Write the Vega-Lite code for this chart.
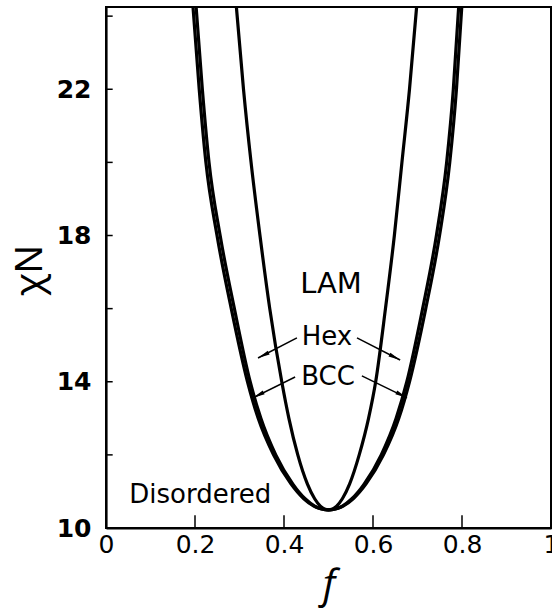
{
  "$schema": "https://vega.github.io/schema/vega-lite/v6.json",
  "width": 445,
  "height": 521,
  "autosize": "none",
  "padding": {"left": 106, "top": 7, "right": 1, "bottom": 82},
  "background": "white",
  "config": {
    "view": {"stroke": "black", "strokeWidth": 2},
    "axis": {"grid": false, "ticks": false, "domainColor": "black", "domainWidth": 2.2, "labelColor": "black", "titleColor": "black"}
  },
  "datasets": {
    "curves": [
      {"curve": "ODT", "f": 0.1955, "chiN": 24.25},
      {"curve": "ODT", "f": 0.2095, "chiN": 22},
      {"curve": "ODT", "f": 0.2245, "chiN": 20},
      {"curve": "ODT", "f": 0.2495, "chiN": 18},
      {"curve": "ODT", "f": 0.2815, "chiN": 16},
      {"curve": "ODT", "f": 0.318, "chiN": 14},
      {"curve": "ODT", "f": 0.342, "chiN": 13},
      {"curve": "ODT", "f": 0.3765, "chiN": 12},
      {"curve": "ODT", "f": 0.416, "chiN": 11.2},
      {"curve": "ODT", "f": 0.4445, "chiN": 10.8},
      {"curve": "ODT", "f": 0.467, "chiN": 10.6},
      {"curve": "ODT", "f": 0.4841, "chiN": 10.52},
      {"curve": "ODT", "f": 0.5, "chiN": 10.495},
      {"curve": "ODT", "f": 0.5159, "chiN": 10.52},
      {"curve": "ODT", "f": 0.533, "chiN": 10.6},
      {"curve": "ODT", "f": 0.5555, "chiN": 10.8},
      {"curve": "ODT", "f": 0.584, "chiN": 11.2},
      {"curve": "ODT", "f": 0.6235, "chiN": 12},
      {"curve": "ODT", "f": 0.658, "chiN": 13},
      {"curve": "ODT", "f": 0.682, "chiN": 14},
      {"curve": "ODT", "f": 0.7185, "chiN": 16},
      {"curve": "ODT", "f": 0.7495, "chiN": 18},
      {"curve": "ODT", "f": 0.7725, "chiN": 20},
      {"curve": "ODT", "f": 0.7875, "chiN": 22},
      {"curve": "ODT", "f": 0.7995, "chiN": 24.25},
      {"curve": "Hex", "f": 0.2025, "chiN": 24.25},
      {"curve": "Hex", "f": 0.2165, "chiN": 22},
      {"curve": "Hex", "f": 0.2315, "chiN": 20},
      {"curve": "Hex", "f": 0.2565, "chiN": 18},
      {"curve": "Hex", "f": 0.2885, "chiN": 16},
      {"curve": "Hex", "f": 0.324, "chiN": 14},
      {"curve": "Hex", "f": 0.348, "chiN": 13},
      {"curve": "Hex", "f": 0.3815, "chiN": 12},
      {"curve": "Hex", "f": 0.42, "chiN": 11.2},
      {"curve": "Hex", "f": 0.4475, "chiN": 10.8},
      {"curve": "Hex", "f": 0.469, "chiN": 10.6},
      {"curve": "Hex", "f": 0.4851, "chiN": 10.52},
      {"curve": "Hex", "f": 0.5, "chiN": 10.495},
      {"curve": "Hex", "f": 0.5149, "chiN": 10.52},
      {"curve": "Hex", "f": 0.531, "chiN": 10.6},
      {"curve": "Hex", "f": 0.5525, "chiN": 10.8},
      {"curve": "Hex", "f": 0.58, "chiN": 11.2},
      {"curve": "Hex", "f": 0.6185, "chiN": 12},
      {"curve": "Hex", "f": 0.652, "chiN": 13},
      {"curve": "Hex", "f": 0.676, "chiN": 14},
      {"curve": "Hex", "f": 0.7115, "chiN": 16},
      {"curve": "Hex", "f": 0.7425, "chiN": 18},
      {"curve": "Hex", "f": 0.7655, "chiN": 20},
      {"curve": "Hex", "f": 0.7805, "chiN": 22},
      {"curve": "Hex", "f": 0.7925, "chiN": 24.25},
      {"curve": "LAM", "f": 0.293, "chiN": 24.25},
      {"curve": "LAM", "f": 0.309, "chiN": 22},
      {"curve": "LAM", "f": 0.326, "chiN": 20},
      {"curve": "LAM", "f": 0.346, "chiN": 18},
      {"curve": "LAM", "f": 0.368, "chiN": 16},
      {"curve": "LAM", "f": 0.395, "chiN": 14},
      {"curve": "LAM", "f": 0.411, "chiN": 13},
      {"curve": "LAM", "f": 0.431, "chiN": 12},
      {"curve": "LAM", "f": 0.4527, "chiN": 11.2},
      {"curve": "LAM", "f": 0.4689, "chiN": 10.8},
      {"curve": "LAM", "f": 0.4817, "chiN": 10.6},
      {"curve": "LAM", "f": 0.491, "chiN": 10.52},
      {"curve": "LAM", "f": 0.5, "chiN": 10.495},
      {"curve": "LAM", "f": 0.509, "chiN": 10.52},
      {"curve": "LAM", "f": 0.5183, "chiN": 10.6},
      {"curve": "LAM", "f": 0.5311, "chiN": 10.8},
      {"curve": "LAM", "f": 0.5473, "chiN": 11.2},
      {"curve": "LAM", "f": 0.569, "chiN": 12},
      {"curve": "LAM", "f": 0.59, "chiN": 13},
      {"curve": "LAM", "f": 0.606, "chiN": 14},
      {"curve": "LAM", "f": 0.628, "chiN": 16},
      {"curve": "LAM", "f": 0.648, "chiN": 18},
      {"curve": "LAM", "f": 0.665, "chiN": 20},
      {"curve": "LAM", "f": 0.682, "chiN": 22},
      {"curve": "LAM", "f": 0.698, "chiN": 24.25}
    ],
    "labels": [
      {"label": "LAM", "f": 0.5056, "chiN": 16.67},
      {"label": "Hex", "f": 0.4966, "chiN": 15.22},
      {"label": "BCC", "f": 0.499, "chiN": 14.13},
      {"label": "Disordered", "f": 0.2118, "chiN": 10.9}
    ],
    "arrows": [
      {"name": "Hex", "side": "left", "f1": 0.429, "c1": 15.2, "f2": 0.3416, "c2": 14.65},
      {"name": "Hex", "side": "right", "f1": 0.564, "c1": 15.2, "f2": 0.661, "c2": 14.595},
      {"name": "BCC", "side": "left", "f1": 0.425, "c1": 14.13, "f2": 0.3303, "c2": 13.56},
      {"name": "BCC", "side": "right", "f1": 0.575, "c1": 14.16, "f2": 0.6764, "c2": 13.56}
    ],
    "yticks": [
      {"chiN": 10, "kind": "major"}, {"chiN": 12, "kind": "minor"}, {"chiN": 14, "kind": "major"}, {"chiN": 16, "kind": "minor"},
      {"chiN": 18, "kind": "major"}, {"chiN": 20, "kind": "minor"}, {"chiN": 22, "kind": "major"}, {"chiN": 24, "kind": "minor"}
    ],
    "xticks": [
      {"f": 0.2}, {"f": 0.4}, {"f": 0.6}, {"f": 0.8}
    ]
  },
  "layer": [
    {
      "data": {"name": "curves"},
      "mark": {"type": "line", "color": "black", "interpolate": "monotone", "clip": true},
      "encoding": {
        "x": {"field": "f", "type": "quantitative",
          "scale": {"domain": [0, 1], "nice": false, "zero": false},
          "axis": {"values": [0, 0.2, 0.4, 0.6, 0.8, 1], "format": ".1~f", "labelFlush": false,
            "labelFont": "DejaVu Sans", "labelFontSize": 25, "labelPadding": 4,
            "title": "f", "titleFont": "Open Sans", "titleFontStyle": "italic", "titleFontWeight": "normal", "titleFontSize": 40,
            "titleBaseline": "middle", "titleY": 57}},
        "y": {"field": "chiN", "type": "quantitative",
          "scale": {"domain": [10, 24.25], "nice": false, "zero": false},
          "axis": {"values": [10, 14, 18, 22],
            "labelFont": "DejaVu Sans", "labelFontSize": 25, "labelFontWeight": "bold", "labelPadding": 15,
            "title": "χN", "titleFont": "Noto Sans", "titleFontWeight": "normal", "titleFontSize": 38,
            "titleAngle": -90, "titleAlign": "center", "titleBaseline": "middle", "titleX": -76, "titleY": 263}},
        "detail": {"field": "curve"},
        "strokeWidth": {"field": "curve", "type": "nominal", "scale": {"domain": ["ODT", "Hex", "LAM"], "range": [3.2, 3.2, 1.6]}, "legend": null}
      }
    },
    {
      "data": {"name": "yticks"},
      "mark": {"type": "rule", "color": "black", "strokeWidth": 1.5},
      "encoding": {
        "x": {"datum": 0, "type": "quantitative"},
        "x2": {"condition": {"test": "datum.kind === 'major'", "datum": 0.03}, "datum": 0.015},
        "y": {"field": "chiN", "type": "quantitative"}
      }
    },
    {
      "data": {"name": "xticks"},
      "mark": {"type": "rule", "color": "black", "strokeWidth": 1.5},
      "encoding": {
        "x": {"field": "f", "type": "quantitative"},
        "y": {"datum": 10, "type": "quantitative"},
        "y2": {"datum": 10.35}
      }
    },
    {
      "data": {"name": "arrows"},
      "mark": {"type": "rule", "color": "black", "strokeWidth": 1.5},
      "encoding": {
        "x": {"field": "f1", "type": "quantitative"},
        "y": {"field": "c1", "type": "quantitative"},
        "x2": {"field": "f2"},
        "y2": {"field": "c2"}
      }
    },
    {
      "data": {"name": "arrows"},
      "mark": {"type": "point", "shape": "M0,0L-0.35,2L0.35,2Z", "filled": true, "color": "black", "size": 144, "opacity": 1},
      "encoding": {
        "x": {"field": "f2", "type": "quantitative"},
        "y": {"field": "c2", "type": "quantitative"},
        "angle": {"condition": {"test": "datum.side === 'left'", "value": 243}, "value": 117}
      }
    },
    {
      "data": {"name": "labels"},
      "mark": {"type": "text", "font": "DejaVu Sans", "color": "black", "baseline": "middle", "align": "center"},
      "encoding": {
        "x": {"field": "f", "type": "quantitative"},
        "y": {"field": "chiN", "type": "quantitative"},
        "text": {"field": "label"},
        "size": {"condition": {"test": "datum.label === 'LAM'", "value": 29}, "value": 26}
      }
    }
  ]
}
